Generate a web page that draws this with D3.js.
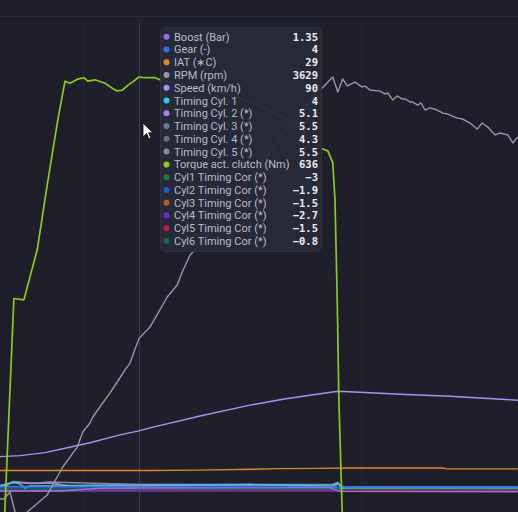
<!DOCTYPE html>
<html>
<head>
<meta charset="utf-8">
<title>Datalog</title>
<script src="https://d3js.org/d3.v7.min.js"></script>
<style>
  html, body { margin: 0; padding: 0; background: #1e1f2b; overflow: hidden; }
  .lbl { font-family: "Segoe UI", Roboto, "Noto Sans", sans-serif; font-size: 11px; fill: #b9bccb; }
  .val { font-family: "DejaVu Sans Mono", monospace; font-size: 10.5px; font-weight: bold; fill: #eeeef4; text-anchor: end; }
</style>
</head>
<body>
<div id="chart"></div>
<script>
// time in seconds, [t, value]
var torque = [[0,0],[0.08,0],[0.25,318],[0.43,316],[0.67,388],[0.85,481],[1.04,574],[1.17,630],[1.26,627],[1.40,633],[1.51,635],[1.58,630],[1.71,632],[1.89,627],[2.02,620],[2.11,616],[2.20,617],[2.30,624],[2.39,629],[2.50,636],[2.61,635],[2.79,635],[2.88,632],[3.24,626],[3.78,617],[4.32,606],[4.86,589],[5.40,563],[5.80,533],[5.90,530],[5.99,513],[6.03,459],[6.07,316],[6.10,172],[6.16,11],[6.21,-10],[9.32,-10]];
var rpm = [[0,2631],[0.07,2631],[0.18,2674],[0.27,2550],[0.38,2469],[0.49,2550],[0.85,2656],[1.13,2830],[1.39,2954],[1.49,3048],[1.62,3104],[1.67,3141],[1.98,3291],[2.11,3359],[2.25,3434],[2.34,3477],[2.50,3629],[2.70,3701],[3.01,3888],[3.19,3963],[3.28,4044],[3.42,4150],[3.60,4212],[4.14,4461],[4.68,4710],[5.40,5040],[5.80,5189],[5.99,5258],[6.08,5164],[6.17,5245],[6.25,5202],[6.39,5226],[6.52,5195],[6.57,5202],[6.66,5177],[6.84,5170],[6.93,5152],[6.98,5158],[7.07,5114],[7.15,5139],[7.24,5121],[7.29,5121],[7.38,5102],[7.43,5102],[7.52,5083],[7.58,5096],[7.65,5052],[7.74,5065],[7.87,5052],[7.97,5033],[8.06,5027],[8.23,5002],[8.33,4996],[8.46,4971],[8.59,4934],[8.68,4971],[8.78,4946],[8.91,4897],[9.00,4909],[9.14,4897],[9.23,4847],[9.32,4884]];
var speed = [[0,64],[0.36,65],[0.81,68],[1.21,73],[1.62,78],[2.16,86],[2.50,90],[2.70,93],[3.60,105],[4.50,116],[5.09,122],[5.58,126],[6.08,130],[6.48,129],[7.20,127],[8.10,125],[9.32,121]];
var iat = [[0,29],[2.50,29],[2.70,29],[3.60,29.3],[4.55,30],[4.99,30.5],[5.71,30.7],[6.30,31],[7.97,31],[8.05,30.3],[9.32,30.3]];
var gear = [[0,4],[2.50,4],[9.32,4]];
var boost = [[0,0.6],[1.08,0.6],[1.80,1.3],[2.50,1.35],[5.94,1.4],[6.12,0.5],[9.32,0.4]];
var timing1 = [[0,4],[0.14,5],[0.23,8],[0.36,6],[0.45,2],[0.54,4],[2.50,4],[4.50,5.5],[5.99,4],[6.08,7],[6.16,2],[6.30,3],[9.32,3]];
var timing2 = [[0,4.5],[0.27,7.5],[0.63,6.5],[0.90,7],[1.17,4.5],[2.50,5.1],[4.50,5.5],[5.99,3],[6.08,7],[6.16,3],[9.32,2.5]];
var timing3 = [[0,4],[0.29,8],[0.59,7],[0.90,7.5],[1.26,4],[2.50,5.5],[5.40,5],[6.03,3],[6.08,6],[6.21,2.5],[9.32,2]];
var timing4 = [[0,3.5],[2.50,4.3],[5.40,4.5],[6.12,2],[9.32,1.5]];
var timing5 = [[0,4],[0.25,8.5],[0.54,6.5],[0.90,8],[2.50,5.5],[5.99,5.5],[6.08,7.5],[6.16,2],[9.32,2.5]];
var cor1 = [[0,-3],[2.50,-3],[6.12,-2.5],[9.32,-2.5]];
var cor2 = [[0,-1],[2.50,-1.9],[9.32,-1]];
var cor3 = [[0,-3],[1.08,-3],[1.44,-1.5],[2.50,-1.5],[9.32,-2]];
var cor4 = [[0,-3],[1.08,-2.5],[2.50,-2.7],[9.32,-3]];
var cor5 = [[0,-3],[1.08,-2],[2.50,-1.5],[6.12,-2],[9.32,-3]];
var cor6 = [[0,-1],[2.50,-0.8],[9.32,-1.5]];

var timeDomain = [0, 9.324];
var gridTimes = [1.5, 6.5];
var cursorTime = 2.5;

// tooltip order
var series = [
  { name: "Boost (Bar)", color: "#9a6cf2", data: boost, dom: [-6.65, 117.85], fmt: ".2f" },
  { name: "Gear (-)", color: "#2f6fe8", data: gear, dom: [-29, 469], fmt: "d" },
  { name: "IAT (\u2217C)", color: "#e08a1e", data: iat, dom: [-12, 400], fmt: "d" },
  { name: "RPM (rpm)", color: "#9896a8", data: rpm, dom: [2500, 5600], fmt: "d" },
  { name: "Speed (km/h)", color: "#a993f2", data: speed, dom: [0, 503], fmt: "d" },
  { name: "Timing Cyl. 1", color: "#26cfe6", data: timing1, dom: [-30, 468], fmt: "~g" },
  { name: "Timing Cyl. 2 (*)", color: "#b07cf0", data: timing2, dom: [-30, 468], fmt: "~g" },
  { name: "Timing Cyl. 3 (*)", color: "#6a7a90", data: timing3, dom: [-30, 468], fmt: "~g" },
  { name: "Timing Cyl. 4 (*)", color: "#6c6e74", data: timing4, dom: [-30, 468], fmt: "~g" },
  { name: "Timing Cyl. 5 (*)", color: "#8c8c92", data: timing5, dom: [-30, 468], fmt: "~g" },
  { name: "Torque act. clutch (Nm)", color: "#8ccb1c", data: torque, dom: [0, 715], fmt: "d" },
  { name: "Cyl1 Timing Cor (*)", color: "#1b7a3a", data: cor1, dom: [-32, 466], fmt: "~g" },
  { name: "Cyl2 Timing Cor (*)", color: "#2b52c8", data: cor2, dom: [-32, 466], fmt: "~g" },
  { name: "Cyl3 Timing Cor (*)", color: "#c0581a", data: cor3, dom: [-32, 466], fmt: "~g" },
  { name: "Cyl4 Timing Cor (*)", color: "#6a2ad2", data: cor4, dom: [-32, 466], fmt: "~g" },
  { name: "Cyl5 Timing Cor (*)", color: "#c21a4c", data: cor5, dom: [-32, 466], fmt: "~g" },
  { name: "Cyl6 Timing Cor (*)", color: "#0f6a48", data: cor6, dom: [-32, 466], fmt: "~g" }
];
// draw order (bottom first)
var drawOrder = [11,12,13,14,15,16,8,7,9,6,5,1,0,2,4,3,10];

var W = 518, H = 512;
var plotTop = 17, plotBottom = 520;

var svg = d3.select("#chart").append("svg")
  .attr("width", W).attr("height", H);

svg.append("rect").attr("width", W).attr("height", H).attr("fill", "#1e1f2b");
svg.append("line").attr("x1", 0).attr("x2", W).attr("y1", 16.5).attr("y2", 16.5)
  .attr("stroke", "#2a2b39");

svg.append("clipPath").attr("id", "clip")
  .append("rect").attr("x", 0).attr("y", plotTop).attr("width", W).attr("height", H - plotTop);

var x = d3.scaleLinear().domain(timeDomain).range([0, W]);

// grid
svg.selectAll(".grid").data(gridTimes).enter().append("line")
  .attr("x1", d => Math.round(x(d)) + 0.5).attr("x2", d => Math.round(x(d)) + 0.5)
  .attr("y1", 22).attr("y2", H)
  .attr("stroke", "#252634");

// crosshair
svg.append("line")
  .attr("x1", Math.round(x(cursorTime)) + 0.5).attr("x2", Math.round(x(cursorTime)) + 0.5)
  .attr("y1", 22).attr("y2", H)
  .attr("stroke", "#3a3c4a");

var plot = svg.append("g").attr("clip-path", "url(#clip)");

drawOrder.forEach(function(i) {
  var s = series[i];
  var y = d3.scaleLinear().domain(s.dom).range([plotBottom, 22]);
  var line = d3.line().x(d => x(d[0])).y(d => y(d[1]));
  plot.append("path")
    .datum(s.data)
    .attr("fill", "none")
    .attr("stroke", s.color)
    .attr("stroke-width", i === 10 ? 1.7 : 1.4)
    .attr("stroke-linejoin", "round")
    .attr("d", line);
});

// value at cursor
function valueAt(data, t) {
  var i = d3.bisector(d => d[0]).left(data, t);
  if (i < data.length && data[i][0] === t) return data[i][1];
  var a = data[i - 1], b = data[i];
  return a[1] + (b[1] - a[1]) * (t - a[0]) / (b[0] - a[0]);
}

// tooltip
var tip = svg.append("g");
tip.append("rect")
  .attr("x", 160.5).attr("y", 27.5).attr("width", 161).attr("height", 224)
  .attr("rx", 5)
  .attr("fill", "#282a38").attr("fill-opacity", 0.95)
  .attr("stroke", "#30323f");

var rowY = d3.scaleLinear().domain([0, series.length - 1]).range([36.7, 241]);

var rows = tip.selectAll(".row").data(series).enter().append("g")
  .attr("transform", (d, i) => "translate(0," + rowY(i) + ")");

rows.append("circle").attr("cx", 166.5).attr("cy", 0).attr("r", 3).attr("fill", d => d.color);
rows.append("text").attr("class", "lbl").attr("x", 174).attr("y", 4).text(d => d.name);
rows.append("text").attr("class", "val").attr("x", 318).attr("y", 4)
  .text(d => d3.format(d.fmt)(valueAt(d.data, cursorTime)));

// mouse pointer
svg.append("path")
  .attr("transform", "translate(143,123)")
  .attr("d", "M0,0 L0,14 L3.5,10.5 L6,16 L8,15 L5.6,9.8 L10,9.8 Z")
  .attr("fill", "#ffffff").attr("stroke", "#000000").attr("stroke-width", 0.8);
</script>
</body>
</html>
